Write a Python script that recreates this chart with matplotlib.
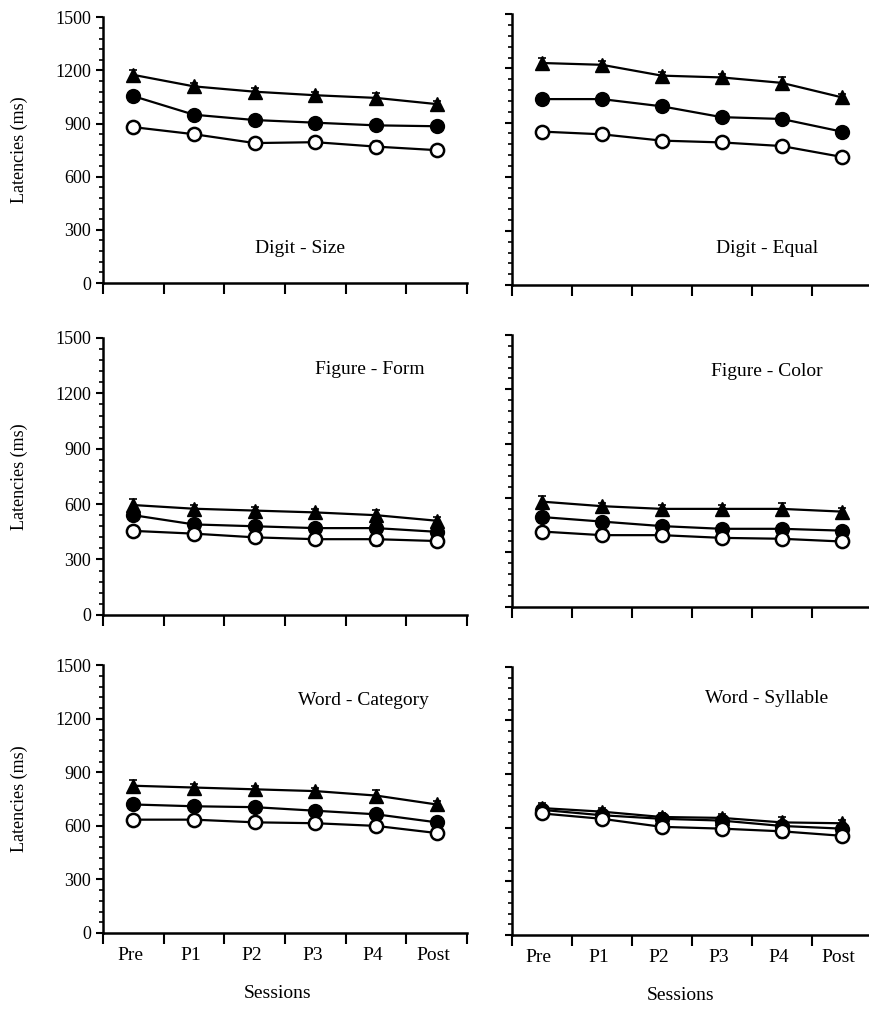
import matplotlib
matplotlib.use("Agg")
import matplotlib.pyplot as plt
from matplotlib.ticker import MultipleLocator, FixedLocator, NullFormatter

plt.rcParams['font.family'] = ['Liberation Serif', 'DejaVu Serif']

sessions = ["Pre", "P1", "P2", "P3", "P4", "Post"]
titles = ["Digit - Size", "Digit - Equal", "Figure - Form", "Figure - Color",
          "Word - Category", "Word - Syllable"]

# triangles, filled circles, open circles (ms)
digit_size_tri = [1175, 1110, 1080, 1060, 1045, 1010]
digit_size_fill = [1055, 950, 920, 905, 890, 885]
digit_size_open = [880, 840, 790, 795, 770, 750]

digit_equal_tri = [1230, 1220, 1160, 1150, 1120, 1040]
digit_equal_fill = [1030, 1030, 990, 930, 920, 850]
digit_equal_open = [850, 835, 800, 790, 770, 710]

figure_form_tri = [595, 575, 565, 555, 540, 510]
figure_form_fill = [540, 490, 480, 470, 470, 450]
figure_form_open = [455, 440, 420, 410, 410, 400]

figure_color_tri = [580, 555, 540, 540, 540, 525]
figure_color_fill = [495, 470, 445, 430, 430, 420]
figure_color_open = [415, 395, 395, 380, 375, 360]

word_cat_tri = [825, 815, 805, 795, 770, 720]
word_cat_fill = [720, 710, 705, 685, 665, 620]
word_cat_open = [635, 635, 620, 615, 600, 560]

word_syl_tri = [710, 690, 660, 655, 630, 625]
word_syl_fill = [700, 670, 650, 640, 610, 595]
word_syl_open = [680, 650, 605, 595, 580, 555]

# error bar half-widths (ms)
err_tri = [30, 20, 20, 20, 30, 20]
err_fill = [15, 20, 15, 15, 15, 15]
err_open = [25, 20, 25, 25, 30, 25]

panels = [
    (digit_size_tri, digit_size_fill, digit_size_open),
    (digit_equal_tri, digit_equal_fill, digit_equal_open),
    (figure_form_tri, figure_form_fill, figure_form_open),
    (figure_color_tri, figure_color_fill, figure_color_open),
    (word_cat_tri, word_cat_fill, word_cat_open),
    (word_syl_tri, word_syl_fill, word_syl_open),
]

# axes rectangles [left, bottom, width, height] in figure fraction
rects = [
    [0.1185, 0.722, 0.419, 0.261],
    [0.589, 0.720, 0.414, 0.266],
    [0.1185, 0.396, 0.419, 0.272],
    [0.589, 0.404, 0.414, 0.267],
    [0.1185, 0.0835, 0.419, 0.263],
    [0.589, 0.0815, 0.414, 0.2635],
]
label_pos = [(3.25, 195), (4.25, 200), (4.4, 1330), (4.25, 1300), (4.3, 1300), (4.25, 1320)]

fig = plt.figure(figsize=(8.69, 10.18), dpi=100)
xs = [i + 0.5 for i in range(len(sessions))]

for k, (rect, data) in enumerate(zip(rects, panels)):
    ax = fig.add_axes(rect)
    tri, fill, opn = data
    common = dict(color='black', lw=1.6, capsize=3, elinewidth=1.2, capthick=1.2)
    ax.errorbar(xs, tri, yerr=err_tri, marker='^', ms=10, mfc='black', mec='black', **common)
    ax.errorbar(xs, fill, yerr=err_fill, marker='o', ms=10, mfc='black', mec='black', **common)
    ax.errorbar(xs, opn, yerr=err_open, marker='o', ms=9.5, mfc='white', mec='black', mew=1.8, **common)

    ax.set_xlim(0, 6)
    ax.set_ylim(0, 1500)
    for s in ['top', 'right']:
        ax.spines[s].set_visible(False)
    for s in ['left', 'bottom']:
        ax.spines[s].set_linewidth(1.8)
    ax.xaxis.set_major_locator(FixedLocator(range(7)))
    ax.xaxis.set_major_formatter(NullFormatter())
    ax.tick_params(axis='x', which='major', direction='out', length=8, width=1.5)
    ax.yaxis.set_major_locator(MultipleLocator(300))
    ax.yaxis.set_minor_locator(MultipleLocator(60))
    ax.tick_params(axis='y', which='major', direction='out', length=5, width=1.5, labelsize=13)
    ax.tick_params(axis='y', which='minor', direction='out', length=3, width=1.2)
    if k % 2 == 1:
        ax.set_yticklabels([])
    else:
        ax.set_ylabel("Latencies (ms)", fontsize=13, labelpad=20)
    if k >= 4:
        for x, s in zip(xs, sessions):
            ax.text(x - 0.05, -125, s, ha='center', va='center', fontsize=14,
                    transform=ax.transData)
        ax.text(0.48 if k == 4 else 0.47, -0.225, "Sessions", ha='center', va='center',
                fontsize=14, transform=ax.transAxes)
    ax.text(label_pos[k][0], label_pos[k][1], titles[k], ha='center', va='center',
            fontsize=14)

fig.savefig("out.png", dpi=100)
